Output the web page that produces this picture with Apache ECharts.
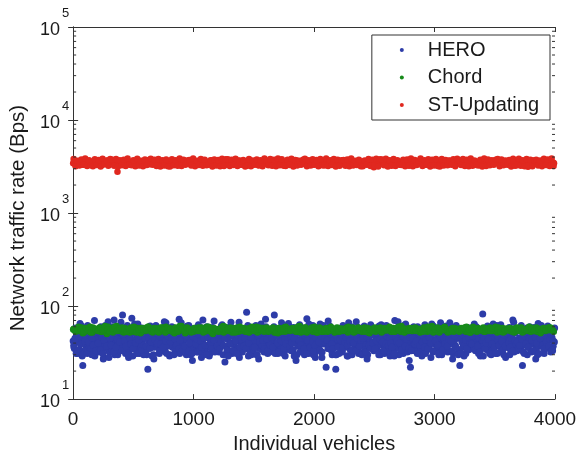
<!DOCTYPE html>
<html>
<head>
<meta charset="utf-8">
<script src="https://cdn.jsdelivr.net/npm/echarts@6/dist/echarts.min.js"></script>
<style>
  html, body { margin: 0; padding: 0; background: #fff; }
  #chart { width: 583px; height: 459px; }
</style>
</head>
<body>
<div id="chart"></div>
<script>
// Per-vehicle network traffic rate (Bps). Each list holds one sample every
// `step` vehicles, starting at the vehicle offset given where it is used.
const heroStep = 10;
const heroRateA = [
  42,35,58,47,31,53,39,61,23,44,
  50,36,62,41,33,56,48,38,29,45,
  54,40,34,60,46,27,37,52,43,68,
  32,57,49,38,71,41,55,30,47,36,
  59,80,33,51,39,62,28,46,53,35,
  41,64,37,48,56,31,43,58,34,50,
  45,30,21,40,61,36,49,27,57,42,
  38,52,47,33,44,59,35,66,41,55,
  29,46,60,39,53,32,48,42,72,37,
  51,34,43,57,30,45,62,38,50,26,
  44,55,36,48,63,33,41,58,31,52,
  37,60,46,29,54,40,35,69,43,49,
  56,32,42,61,38,47,25,53,34,59,
  40,67,31,50,45,36,57,42,28,48,
  33,52,44,39,86,62,35,47,30,55,
  46,38,58,43,27,51,64,34,49,41,
  60,35,48,32,54,40,45,80,37,53,
  31,57,42,66,39,47,29,55,36,61,
  50,33,45,59,41,26,52,38,63,44,
  36,54,30,48,73,40,57,34,46,62,
  43,28,55,37,51,64,32,47,39,58,
  22,49,35,61,44,30,53,41,21,46,
  57,38,47,33,62,42,36,55,29,50,
  34,60,41,52,37,68,45,31,54,39,
  48,32,58,43,27,50,36,63,40,56,
  41,53,35,46,61,30,49,38,57,44,
  62,37,51,29,45,55,33,70,42,48,
  35,59,43,50,31,47,64,39,53,26,
  22,46,38,56,41,34,60,45,31,52,
  54,40,63,33,49,37,57,28,44,61,
  39,51,35,58,42,66,30,48,36,55,
  46,32,53,40,60,27,45,38,62,50,
  34,23,56,43,37,52,31,59,47,41,
  58,36,44,64,33,49,39,55,29,45,
  82,42,52,35,61,38,47,30,56,43,
  37,54,31,48,41,63,36,50,44,28,
  53,40,59,34,46,71,32,51,38,57,
  44,35,62,23,49,41,55,30,47,60,
  33,56,39,52,27,45,65,37,58,42,
  48,31,54,40,61,36,50,43,33,57
];
const heroRateB = [
  38,45,31,50,42,34,47,29,53,40,
  33,48,41,36,52,30,44,39,55,35,
  46,32,51,37,43,28,49,35,41,54,
  40,53,34,45,30,48,38,52,33,44,
  36,42,55,31,47,39,33,50,44,29,
  51,35,40,46,32,54,37,43,30,48,
  34,49,38,53,41,29,45,36,51,39,
  44,31,47,35,55,40,32,48,37,52,
  30,43,36,50,34,46,41,54,31,45,
  47,38,52,33,44,36,50,30,42,35,
  39,54,32,46,37,51,28,43,48,34,
  53,36,45,31,49,40,35,52,33,47,
  35,41,50,38,30,45,53,37,44,31,
  48,33,39,55,42,34,47,30,51,40,
  32,46,37,43,51,29,40,48,36,54,
  42,52,30,47,35,44,38,55,32,45,
  37,31,49,41,53,36,46,33,50,39,
  50,43,35,52,31,48,34,42,38,46,
  34,47,40,29,45,54,37,51,32,43,
  45,38,53,36,42,31,49,35,47,30,
  31,50,44,34,39,52,28,46,41,55,
  49,35,38,47,33,43,51,36,30,44,
  36,53,41,32,48,37,45,29,52,40,
  43,30,46,51,35,41,33,49,38,54,
  52,39,34,45,30,47,42,36,53,33,
  35,46,50,38,44,32,54,40,31,48,
  47,33,42,53,36,49,29,45,39,51,
  30,51,37,41,55,34,46,32,48,43,
  44,36,49,33,40,52,38,47,35,29,
  38,54,31,46,43,35,50,41,33,52,
  53,40,45,30,37,48,34,55,42,36,
  33,47,39,52,44,31,43,37,50,45,
  46,32,51,36,29,53,40,46,34,49,
  41,55,35,42,48,38,31,52,45,37,
  29,44,50,34,39,46,53,33,41,47,
  50,37,43,55,32,41,45,30,48,36,
  36,48,30,44,51,35,39,54,33,42,
  45,34,53,38,31,47,42,36,52,40,
  32,51,41,46,35,30,49,44,38,55,
  48,39,35,50,43,53,32,46,37,41
];
const heroRateC = [
  36,44,52,33,47,65,39,30,50,42,
  48,31,41,57,35,45,38,70,33,52,
  40,55,34,46,31,43,62,37,49,28,
  45,38,60,32,51,36,44,53,41,67,
  33,49,42,37,56,30,46,39,74,35,
  52,40,31,64,43,48,34,51,38,45,
  37,58,46,35,41,53,30,44,62,40,
  49,33,39,50,36,68,42,31,47,55,
  41,46,57,30,44,38,51,35,43,66,
  34,52,37,48,61,33,40,56,31,47,
  55,39,44,32,49,42,36,71,45,38,
  30,47,53,40,35,59,43,32,50,37,
  46,35,41,63,38,45,52,34,29,48,
  39,56,33,47,42,31,49,67,36,44,
  51,37,45,35,58,40,32,46,53,34,
  36,62,30,49,41,54,38,43,35,72,
  44,33,50,38,46,36,60,31,48,40,
  32,53,42,57,35,44,39,51,65,37,
  47,40,34,45,52,30,56,42,38,49,
  58,35,48,31,43,64,36,50,41,33,
  38,46,55,41,34,47,32,62,45,52,
  43,69,37,50,39,35,54,30,48,36,
  31,44,49,36,57,41,46,38,66,42,
  50,34,40,55,33,45,59,37,43,30,
  45,61,32,47,52,38,35,49,40,56,
  35,42,51,30,44,63,41,33,54,39,
  53,38,45,40,36,50,31,47,42,68,
  40,57,34,48,62,37,44,52,35,46,
  33,45,60,39,42,31,55,38,49,41,
  48,36,43,53,35,46,40,64,32,51,
  42,52,38,31,47,56,34,45,39,61,
  37,44,66,42,33,50,48,36,53,30,
  55,31,41,49,38,43,35,58,46,40,
  39,48,53,34,60,37,45,32,50,43,
  46,35,40,57,44,31,52,39,64,36,
  31,62,47,38,51,42,34,49,37,55,
  50,40,36,45,33,67,43,54,41,35,
  38,54,44,32,48,39,58,36,46,52,
  43,33,59,46,40,53,31,45,62,38,
  35,49,41,55,37,44,50,34,42,58
];

const chordStep = 20;
const chordRateA = [
  56,53,58,55,51,57,54,60,52,56,
  55,59,53,57,50,56,58,54,61,55,
  57,52,56,54,59,53,55,58,51,57,
  54,60,55,52,57,56,53,59,55,54,
  58,55,51,56,54,61,57,53,56,52,
  53,57,59,55,52,56,54,58,50,57,
  56,54,53,60,57,55,52,56,59,54,
  55,58,56,52,54,57,60,53,55,58,
  57,53,55,59,56,51,54,57,53,56,
  54,56,58,53,61,55,57,52,56,59,
  56,52,57,55,53,58,54,60,55,53,
  58,55,54,56,52,57,59,53,56,54,
  53,59,56,51,57,55,54,58,52,57,
  55,57,53,58,56,60,53,55,57,54,
  57,54,59,55,52,56,58,53,55,61,
  54,56,52,57,59,54,55,57,53,56,
  56,58,55,53,57,52,60,54,58,55,
  55,53,57,59,54,56,52,58,56,53,
  57,56,54,52,58,55,59,53,57,54,
  53,58,56,55,51,57,54,56,59,55
];
const chordRateB = [
  55,57,54,59,52,56,58,53,55,57,
  56,53,58,55,60,54,52,57,56,54,
  53,58,56,52,55,59,54,56,53,58,
  57,55,53,58,54,52,57,55,60,56,
  54,56,59,53,57,55,51,58,54,55,
  58,54,56,57,53,60,55,52,57,56,
  55,59,52,56,54,57,58,55,53,54,
  56,53,57,55,59,54,52,56,58,55,
  54,57,55,52,56,58,53,59,55,57,
  57,55,53,58,52,56,59,54,56,53,
  55,52,58,54,57,53,55,57,52,59,
  53,57,55,59,54,56,52,55,58,56,
  58,54,52,56,55,53,57,59,54,55,
  56,55,58,53,57,54,56,52,55,58,
  54,58,56,55,53,59,55,57,54,52,
  57,53,55,58,56,52,54,58,56,55,
  55,56,59,54,52,57,55,53,57,56,
  53,57,54,56,58,55,59,54,52,57,
  56,54,57,53,55,58,52,56,55,54,
  58,55,53,57,54,56,57,55,58,53
];
const chordRateC = [
  57,54,60,56,53,58,55,52,59,56,
  54,58,55,61,56,53,57,60,54,57,
  59,56,53,57,55,60,52,56,58,55,
  55,60,57,54,58,53,59,56,52,58,
  56,53,58,55,61,57,54,59,56,53,
  58,56,54,59,53,57,60,55,58,56,
  53,57,61,54,56,59,55,52,57,60,
  57,55,53,58,60,54,56,59,55,53,
  59,54,57,56,52,58,55,57,60,56,
  55,58,54,60,57,53,59,54,56,58,
  60,56,59,53,55,57,54,58,55,57,
  54,57,55,58,60,56,53,56,59,54,
  57,53,58,56,54,59,57,55,53,58,
  55,60,56,53,58,55,61,57,56,55,
  58,56,54,57,55,53,58,60,54,59,
  56,59,57,55,60,56,53,55,58,57,
  53,55,58,60,56,58,55,57,54,56,
  59,57,56,54,57,60,56,53,58,55,
  55,58,53,57,59,54,57,56,55,60,
  57,54,59,56,53,58,55,59,57,54
];

const stStep = 16;
const stRateA = [
  3420,3510,3380,3590,3460,3300,3650,3440,3370,3530,
  3480,3610,3340,3450,3560,3290,3500,3410,3680,3390,
  3520,3450,3330,2780,3570,3430,3620,3360,3490,3540,
  3400,3580,3470,3310,3640,3450,3380,3520,3430,3600,
  3350,3490,3560,3420,3700,3330,3510,3460,3390,3580,
  3470,3320,3540,3610,3440,3370,3500,3660,3410,3480,
  3560,3390,3450,3530,3300,3620,3470,3400,3570,3440,
  3380,3510,3690,3430,3490,3350,3590,3460,3520,3310,
  3600,3440,3370,3550,3480,3410,3640,3330,3500,3460,
  3420,3570,3490,3360,3610,3450,3280,3530,3470,3590,
  3510,3340,3460,3720,3400,3550,3430,3380,3620,3490,
  3450,3600,3320,3480,3540,3410,3670,3470,3360,3520,
  3390,3530,3470,3610,3300,3580,3440,3500,3420,3650,
  3560,3420,3380,3490,3630,3350,3510,3460,3570,3400,
  3480,3650,3410,3520,3370,3590,3450,3330,3540,3470,
  3430,3500,3580,3350,3470,3620,3100,3540,3460,3510,
  3600,3380,3490,3440,3560,3320,3700,3420,3480,3530,
  3360,3550,3460,3590,3410,3500,3370,3640,3450,3490,
  3520,3430,3610,3300,3540,3470,3580,3400,3510,3360,
  3470,3590,3380,3520,3450,3660,3420,3490,3350,3570,
  3540,3410,3480,3630,3370,3500,3450,3590,3430,3310,
  3390,3560,3500,3420,3680,3460,3340,3530,3480,3610,
  3500,3450,3370,3550,3490,3410,3620,3360,3520,3470,
  3430,3600,3480,3310,3570,3440,3150,3650,3390,3540,
  3580,3460,3520,3400,3490,3620,3280,3470,3550,3500
];
const stRateB = [
  3480,3390,3550,3430,3610,3370,3500,3460,3580,3410,
  3450,3530,3400,3620,3360,3490,3570,3430,3510,3460,
  3390,3560,3470,3510,3420,3600,3380,3540,3450,3500,
  3530,3440,3590,3380,3480,3550,3420,3490,3360,3570,
  3460,3510,3400,3580,3450,3390,3620,3470,3530,3420,
  3570,3430,3490,3360,3550,3480,3410,3590,3440,3510,
  3410,3600,3460,3500,3380,3540,3450,3390,3610,3480,
  3540,3370,3520,3450,3600,3430,3500,3410,3470,3560,
  3450,3520,3390,3580,3420,3510,3360,3550,3480,3430,
  3500,3460,3610,3400,3530,3370,3570,3440,3390,3520,
  3380,3550,3450,3490,3640,3420,3500,3460,3560,3410,
  3530,3410,3570,3440,3380,3600,3470,3520,3430,3580,
  3460,3590,3380,3530,3470,3410,3550,3390,3500,3450,
  3510,3440,3500,3370,3590,3460,3420,3570,3480,3360,
  3420,3560,3470,3610,3400,3520,3450,3380,3540,3490,
  3570,3390,3520,3450,3480,3560,3410,3600,3370,3530,
  3440,3500,3610,3400,3540,3380,3490,3450,3580,3420,
  3490,3430,3550,3500,3360,3470,3620,3410,3520,3460,
  3400,3580,3440,3530,3470,3590,3390,3500,3440,3550,
  3550,3460,3390,3570,3420,3500,3450,3530,3380,3610,
  3430,3520,3480,3410,3600,3370,3540,3460,3500,3390,
  3580,3400,3560,3450,3490,3420,3510,3390,3570,3470,
  3460,3550,3420,3600,3380,3530,3440,3590,3410,3500,
  3520,3380,3490,3440,3570,3460,3400,3540,3480,3600,
  3410,3570,3450,3500,3430,3560,3370,3520,3460,3440
];
const stRateC = [
  3820,3180,3650,3240,3760,3300,3860,3210,3700,3260,
  3190,3790,3280,3720,3160,3840,3350,3680,3230,3800,
  3750,3220,3810,3170,3690,3270,3740,3200,3850,3310,
  3260,3700,3190,3830,3240,3660,3180,3770,3290,3720,
  3840,3300,3730,3210,3800,3160,3690,3250,3760,3190,
  3170,3780,3260,3700,3230,3850,3200,3740,3310,3670,
  3710,3240,3860,3180,3660,3290,3800,3220,3750,3270,
  3300,3690,3170,3760,3250,3720,3190,3830,3210,3780,
  3790,3210,3740,3280,3840,3200,3680,3300,3710,3170,
  3230,3820,3190,3670,3300,3760,3240,3700,3180,3850,
  3680,3270,3800,3220,3730,3180,3860,3260,3790,3230,
  3200,3750,3290,3840,3170,3710,3250,3660,3300,3740,
  3830,3190,3700,3240,3780,3310,3720,3180,3810,3260,
  3250,3860,3210,3690,3280,3800,3170,3750,3220,3700,
  3720,3230,3770,3190,3850,3240,3660,3290,3740,3180,
  3180,3680,3300,3820,3200,3730,3270,3840,3160,3790,
  3770,3260,3840,3170,3700,3220,3810,3200,3690,3300,
  3290,3740,3180,3760,3230,3860,3190,3710,3280,3660,
  3850,3200,3690,3300,3790,3170,3730,3250,3820,3210,
  3160,3800,3240,3710,3270,3680,3310,3780,3190,3830,
  3700,3290,3820,3210,3740,3190,3850,3230,3670,3280,
  3240,3730,3170,3850,3200,3760,3260,3690,3300,3750,
  3810,3180,3760,3260,3670,3300,3720,3170,3840,3220,
  3270,3840,3220,3700,3190,3810,3240,3750,3180,3690,
  3730,3250,3680,3180,3830,3280,3770,3210,3860,3200
];

const seriesNames = ['HERO', 'Chord', 'ST-Updating'];
const seriesColors = ['#2d3ca8', '#178a1a', '#e0281f'];

const xMin = 0, xMax = 4000, xInterval = 1000;
const yMin = 10, yMax = 100000;

// [vehicle index, rate] pairs for one or more [samples, first vehicle] lists
const toPoints = (lists, step) => {
  const out = [];
  lists.forEach(([vals, offset]) => vals.forEach((v, i) => out.push([offset + i * step, v])));
  return out;
};

// minor ticks of the log axis: 2..9 in every decade
const minorTicks = [];
for (let d = yMin; d < yMax; d *= 10) {
  for (let k = 2; k <= 9; k++) minorTicks.push([0, d * k]);
}

const FONT = '"Liberation Sans", Arial, Helvetica, sans-serif';
const TEXT = '#1a1a1a';
const LINE = '#333';

const chart = echarts.init(document.getElementById('chart'), null, { renderer: 'canvas' });

const yLabel = {
  show: true,
  margin: 4,
  fontFamily: FONT,
  formatter: v => '{b|10}{e|' + Math.round(Math.log10(v)) + '}',
  rich: {
    b: { fontSize: 18, fontFamily: FONT, color: TEXT, padding: [6, 0, 0, 0] },
    e: { fontSize: 13, fontFamily: FONT, color: TEXT, padding: [0, 0, 28, 2] }
  }
};

chart.setOption({
  animation: false,
  backgroundColor: '#fff',
  grid: { left: 71, right: 28, top: 27, bottom: 53, containLabel: false },
  legend: {
    data: seriesNames,
    orient: 'vertical',
    right: 33,
    top: 35,
    backgroundColor: '#fff',
    borderColor: '#333',
    borderWidth: 1,
    borderRadius: 0,
    padding: [5, 11, 5, 28],
    itemGap: 7.5,
    itemWidth: 4,
    itemHeight: 4,
    icon: 'circle',
    textStyle: { fontFamily: FONT, fontSize: 20, color: TEXT, padding: [0, 0, 0, 19] }
  },
  xAxis: [{
    type: 'value', min: xMin, max: xMax, interval: xInterval,
    name: 'Individual vehicles', nameLocation: 'middle', nameGap: 31,
    nameTextStyle: { fontFamily: FONT, fontSize: 20, color: TEXT },
    axisLine: { show: true, lineStyle: { color: LINE, width: 1 } },
    axisTick: { show: true, inside: true, length: 5, lineStyle: { color: LINE } },
    axisLabel: { fontFamily: FONT, fontSize: 19, color: TEXT, margin: 11, formatter: v => String(v) },
    splitLine: { show: false }
  }, {
    type: 'value', min: xMin, max: xMax, interval: xInterval, position: 'top',
    axisLine: { show: true, lineStyle: { color: LINE, width: 1 } },
    axisTick: { show: true, inside: true, length: 5, lineStyle: { color: LINE } },
    axisLabel: { show: false },
    splitLine: { show: false }
  }],
  yAxis: [{
    type: 'log', logBase: 10, min: yMin, max: yMax,
    name: 'Network traffic rate (Bps)', nameLocation: 'middle', nameGap: 37,
    nameTextStyle: { fontFamily: FONT, fontSize: 20.5, color: TEXT, padding: [0, 10, 0, 0] },
    axisLine: { show: true, lineStyle: { color: LINE, width: 1 } },
    axisTick: { show: true, inside: true, length: 5, lineStyle: { color: LINE } },
    axisLabel: yLabel,
    splitLine: { show: false }
  }, {
    type: 'log', logBase: 10, min: yMin, max: yMax, position: 'right',
    axisLine: { show: true, lineStyle: { color: LINE, width: 1 } },
    axisTick: { show: true, inside: true, length: 5, lineStyle: { color: LINE } },
    axisLabel: { show: false },
    splitLine: { show: false }
  }],
  series: [
    {
      name: 'HERO', type: 'scatter', symbol: 'circle', symbolSize: 7,
      itemStyle: { color: seriesColors[0], opacity: 1 },
      data: toPoints([[heroRateA, 0], [heroRateB, 5], [heroRateC, 7]], heroStep), z: 2
    },
    {
      name: 'Chord', type: 'scatter', symbol: 'circle', symbolSize: 6.5,
      itemStyle: { color: seriesColors[1], opacity: 1 },
      data: toPoints([[chordRateA, 0], [chordRateB, 10], [chordRateC, 5]], chordStep), z: 3
    },
    {
      name: 'ST-Updating', type: 'scatter', symbol: 'circle', symbolSize: 6.5,
      itemStyle: { color: seriesColors[2], opacity: 1 },
      data: toPoints([[stRateA, 0], [stRateB, 8], [stRateC, 4]], stStep), z: 4
    },
    {
      name: 'minorTicks', type: 'custom', silent: true, z: 5,
      data: minorTicks,
      renderItem: (params, api) => {
        const v = api.value(1);
        const l = api.coord([xMin, v]);
        const r = api.coord([xMax, v]);
        return {
          type: 'group',
          children: [
            { type: 'line', shape: { x1: l[0], y1: l[1], x2: l[0] + 3, y2: l[1] }, style: { stroke: LINE, lineWidth: 1 } },
            { type: 'line', shape: { x1: r[0] - 3, y1: r[1], x2: r[0], y2: r[1] }, style: { stroke: LINE, lineWidth: 1 } }
          ]
        };
      }
    }
  ]
});
</script>
</body>
</html>
